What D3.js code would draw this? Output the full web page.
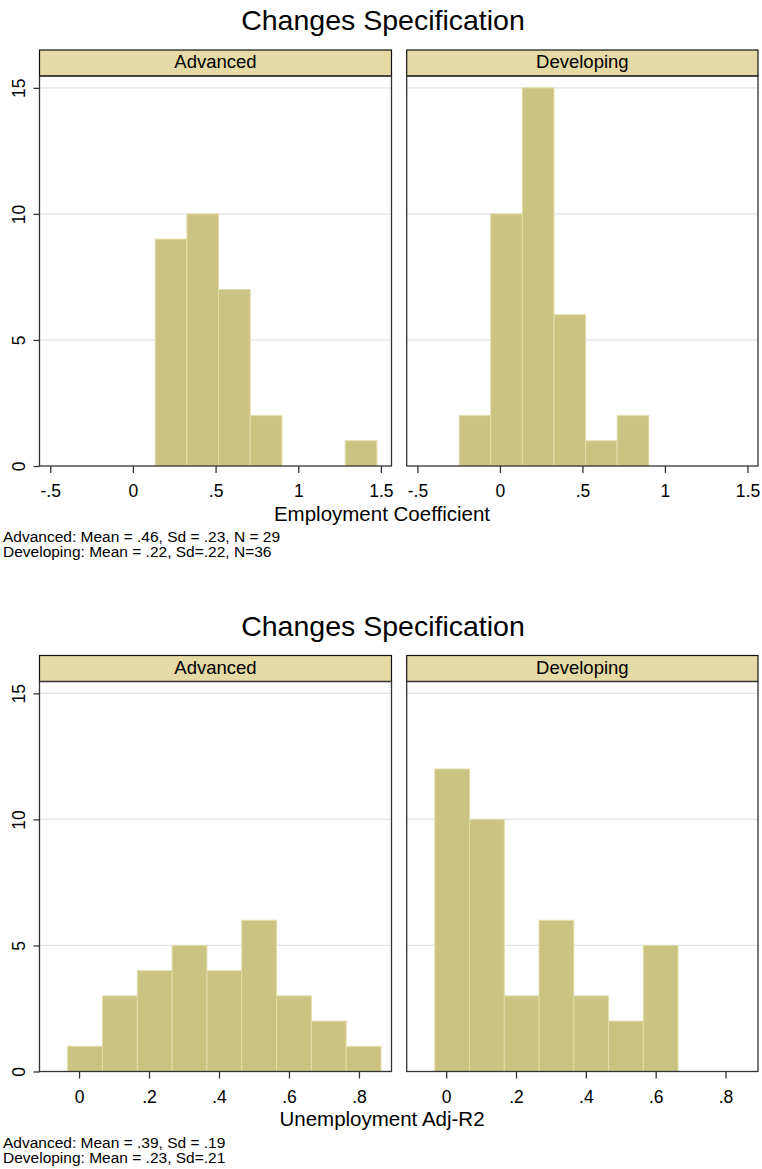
<!DOCTYPE html>
<html>
<head>
<meta charset="utf-8">
<script src="https://cdn.jsdelivr.net/npm/d3@7"></script>
<style>
  body { margin: 0; background: #fff; }
  svg { display: block; font-family: "Liberation Sans", Arial, Helvetica, sans-serif; }
</style>
</head>
<body>
<script>
// data

var panelNames = ["Advanced", "Developing"];
var yTicks = [0, 5, 10, 15];

// first figure: employment coefficient
var empTicks = [-0.5, 0, 0.5, 1, 1.5];
var empTickLabels = ["-.5", "0", ".5", "1", "1.5"];
var empBinWidth = 0.1915;
var empAdvStart = 0.135;
var empAdvCounts = [9, 10, 7, 2, 0, 0, 1];
var empDevStart = -0.247;
var empDevCounts = [2, 10, 15, 6, 1, 2];

// second figure: unemployment adj-R2
var urTicks = [0, 0.2, 0.4, 0.6, 0.8];
var urTickLabels = ["0", ".2", ".4", ".6", ".8"];
var urBinWidth = 0.0995;
var urAdvStart = -0.0325;
var urAdvCounts = [1, 3, 4, 5, 4, 6, 3, 2, 1];
var urDevStart = -0.0325;
var urDevCounts = [12, 10, 3, 6, 3, 2, 5];

var figures = [
    {
        title: "Changes Specification",
        xTitle: "Employment Coefficient",
        xDomain: [-0.565, 1.564],
        ticks: empTicks, tickLabels: empTickLabels,
        binWidth: empBinWidth,
        starts: [empAdvStart, empDevStart],
        counts: [empAdvCounts, empDevCounts],
        notes: ["Advanced: Mean = .46, Sd = .23, N = 29", "Developing: Mean = .22, Sd=.22, N=36"]
    },
    {
        title: "Changes Specification",
        xTitle: "Unemployment Adj-R2",
        xDomain: [-0.113, 0.893],
        ticks: urTicks, tickLabels: urTickLabels,
        binWidth: urBinWidth,
        starts: [urAdvStart, urDevStart],
        counts: [urAdvCounts, urDevCounts],
        notes: ["Advanced: Mean = .39, Sd = .19", "Developing: Mean = .23, Sd=.21"]
    }
];

var W = 762, H = 1169;
var figOffset = 605.5;
var panelX = [[39.5, 391.5], [406.7, 758]];
var headTop = 50, plotTop = 76, plotBottom = 466;

var barFill = "#cbc381", barStroke = "#e2dda9", headFill = "#e5d9a5";

var svg = d3.select("body").append("svg").attr("width", W).attr("height", H);

var y = d3.scaleLinear().domain([0, 15.47]).range([plotBottom, plotTop]);

figures.forEach(function (fig, fi) {
    var g = svg.append("g").attr("transform", "translate(0," + (fi * figOffset) + ")");

    g.append("text")
        .attr("x", 383).attr("y", 30)
        .attr("text-anchor", "middle")
        .attr("font-size", "28.5px")
        .text(fig.title);

    panelNames.forEach(function (name, pi) {
        var x0 = panelX[pi][0], x1 = panelX[pi][1];
        var x = d3.scaleLinear().domain(fig.xDomain).range([x0, x1]);

        // header strip
        g.append("rect")
            .attr("x", x0).attr("y", headTop)
            .attr("width", x1 - x0).attr("height", plotTop - headTop)
            .attr("fill", headFill).attr("stroke", "#111").attr("stroke-width", 1.2);
        g.append("text")
            .attr("x", (x0 + x1) / 2).attr("y", 68)
            .attr("text-anchor", "middle")
            .attr("font-size", "18.5px")
            .text(name);

        // gridlines
        g.selectAll(".grid" + pi).data(yTicks.filter(function (d) { return d > 0; }))
            .enter().append("line")
            .attr("x1", x0).attr("x2", x1)
            .attr("y1", function (d) { return y(d); })
            .attr("y2", function (d) { return y(d); })
            .attr("stroke", "#e3e3e3").attr("stroke-width", 1.2);

        // bars
        var start = fig.starts[pi];
        var bins = fig.counts[pi].map(function (c, i) {
            return { x0: start + i * fig.binWidth, x1: start + (i + 1) * fig.binWidth, n: c };
        }).filter(function (b) { return b.n > 0; });

        g.selectAll(".bar" + pi).data(bins).enter().append("rect")
            .attr("x", function (d) { return x(d.x0); })
            .attr("width", function (d) { return x(d.x1) - x(d.x0); })
            .attr("y", function (d) { return y(d.n); })
            .attr("height", function (d) { return y(0) - y(d.n); })
            .attr("fill", barFill)
            .attr("stroke", barStroke).attr("stroke-width", 1);

        // plot border
        g.append("rect")
            .attr("x", x0).attr("y", plotTop)
            .attr("width", x1 - x0).attr("height", plotBottom - plotTop)
            .attr("fill", "none").attr("stroke", "#333").attr("stroke-width", 1.3);

        // x axis
        var xAxis = d3.axisBottom(x)
            .tickValues(fig.ticks)
            .tickFormat(function (d, i) { return fig.tickLabels[i]; })
            .tickSize(7).tickSizeOuter(0).tickPadding(12);
        var ax = g.append("g").attr("transform", "translate(0," + plotBottom + ")").call(xAxis);
        ax.select(".domain").remove();
        ax.selectAll("line").attr("stroke", "#333").attr("stroke-width", 1.3);
        ax.selectAll("text").attr("font-size", "17.5px").attr("fill", "#000")
            .attr("font-family", "Liberation Sans, Arial, sans-serif");

        // y axis on the left panel only
        if (pi === 0) {
            var yAxis = d3.axisLeft(y).tickValues(yTicks).tickSize(6).tickSizeOuter(0);
            var ay = g.append("g").attr("transform", "translate(" + x0 + ",0)").call(yAxis);
            ay.select(".domain").remove();
            ay.selectAll("line").attr("stroke", "#333").attr("stroke-width", 1.3);
            ay.selectAll("text")
                .attr("transform", "rotate(-90)")
                .attr("x", 0).attr("y", -15).attr("dy", 0)
                .attr("text-anchor", "middle")
                .attr("font-size", "17.5px").attr("fill", "#000")
                .attr("font-family", "Liberation Sans, Arial, sans-serif");
        }
    });

    g.append("text")
        .attr("x", 382).attr("y", 520.7)
        .attr("text-anchor", "middle")
        .attr("font-size", "20.5px")
        .text(fig.xTitle);

    g.selectAll(".note").data(fig.notes).enter().append("text")
        .attr("x", 3).attr("y", function (d, i) { return 542 + i * 15; })
        .attr("font-size", "15.5px")
        .text(function (d) { return d; });
});
</script>
</body>
</html>
